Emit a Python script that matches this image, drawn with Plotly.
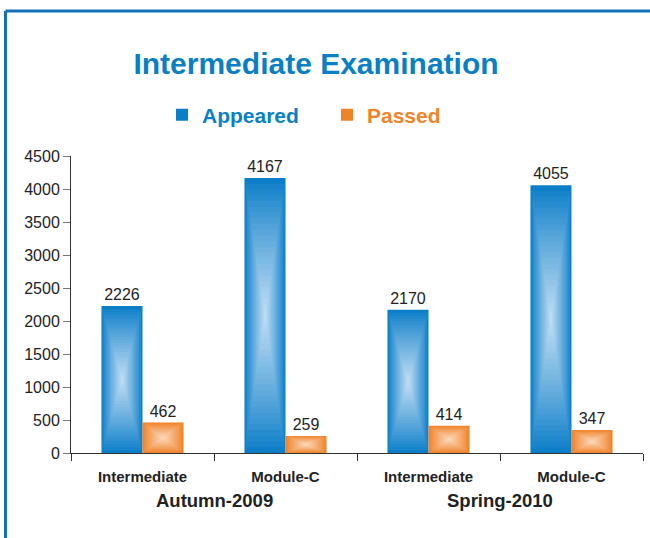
import plotly.graph_objects as go

# exam data
sessions = ["Autumn-2009", "Autumn-2009", "Spring-2010", "Spring-2010"]
levels = ["Intermediate", "Module-C", "Intermediate", "Module-C"]
appeared = [2226, 4167, 2170, 4055]
passed = [462, 259, 414, 347]

BLUE_EDGE, BLUE_MID = (12, 126, 200), (196, 223, 244)
ORANGE_EDGE, ORANGE_MID = (240, 130, 40), (252, 218, 190)
BAR_W = 0.287
N_LAYERS = 24

pos = list(range(len(levels)))   # one slot per exam/session


def mix(c1, c2, t):
    return "rgb(%d,%d,%d)" % tuple(round(a + (b - a) * t) for a, b in zip(c1, c2))


fig = go.Figure()


def add_series(name, values, edge, mid, offset, label_color):
    # base bar carries legend + value labels
    fig.add_trace(go.Bar(
        x=pos, y=values, name="<span style='color:%s'>%s</span>" % (label_color, name),
        marker=dict(color=mix(edge, mid, 0), line=dict(width=0)),
        width=BAR_W, offset=offset,
        text=[str(v) for v in values], textposition="outside",
        textfont=dict(family="Liberation Sans", size=16, color="#222"),
        cliponaxis=False,
    ))
    # concentric layers fake the radial gradient fill
    for k in range(1, N_LAYERS):
        f = 1 - k / N_LAYERS
        fig.add_trace(go.Bar(
            x=pos, y=[v * f for v in values], base=[v * (1 - f) / 2 for v in values],
            marker=dict(color=mix(edge, mid, (k / N_LAYERS) ** 0.9), line=dict(width=0)),
            width=BAR_W * f, offset=offset + BAR_W * (1 - f) / 2,
            showlegend=False, hoverinfo="skip",
        ))


add_series("Appeared", appeared, BLUE_EDGE, BLUE_MID, -BAR_W, "#0a7fc4")
add_series("Passed", passed, ORANGE_EDGE, ORANGE_MID, 0, "#f0842a")

# session labels under each pair of exams
for s in dict.fromkeys(sessions):
    idx = [i for i, v in enumerate(sessions) if v == s]
    fig.add_annotation(
        x=sum(idx) / len(idx), y=-47 / 297, xref="x", yref="paper",
        text="<b>%s</b>" % s, showarrow=False, yanchor="middle",
        font=dict(family="Liberation Sans", size=18.5, color="#222"),
    )

fig.update_layout(
    width=650, height=538,
    margin=dict(l=71, r=7, t=156, b=85),
    paper_bgcolor="white", plot_bgcolor="white",
    barmode="overlay",
    font=dict(family="Liberation Sans", color="#222"),
    title=dict(
        text="<b>Intermediate Examination</b>",
        font=dict(family="Liberation Sans", size=30, color="#0a7fc4"),
        x=316 / 650, xanchor="center", xref="container",
        y=1 - 63 / 538, yanchor="middle", yref="container",
    ),
    legend=dict(
        orientation="h", xref="container", yref="container",
        x=162 / 650, xanchor="left", y=1 - 115 / 538, yanchor="middle",
        font=dict(family="Liberation Sans", size=21, weight="bold"),
        entrywidth=120, itemclick=False,
    ),
    xaxis=dict(
        range=[-0.5, len(levels) - 0.5],
        tickvals=pos, ticktext=levels, ticks="",
        minor=dict(tickvals=[p - 0.5 for p in pos] + [pos[-1] + 0.5],
                   ticks="outside", ticklen=7, tickcolor="#333"),
        ticklabelstandoff=10,
        showline=True, linecolor="#333", linewidth=1,
        tickfont=dict(family="Liberation Sans", size=15, color="#222", weight="bold"),
        showgrid=False, zeroline=False,
    ),
    yaxis=dict(
        range=[0, 4500], dtick=500, showgrid=False, zeroline=False,
        ticks="outside", ticklen=7, tickcolor="#777",
        showline=True, linecolor="#333", linewidth=1,
        tickfont=dict(family="Liberation Sans", size=16, color="#222"),
    ),
)

# blue frame around the figure (left and top edges)
fig.add_shape(type="line", xref="paper", yref="paper",
              x0=(5.5 - 71) / 572, x1=(5.5 - 71) / 572,
              y0=(538 - 11 - 85) / 297, y1=-85 / 297 - 0.05,
              line=dict(color="#1470b8", width=3))
fig.add_shape(type="line", xref="paper", yref="paper",
              x0=(5.5 - 71) / 572, x1=(660 - 71) / 572,
              y0=(538 - 11 - 85) / 297, y1=(538 - 11 - 85) / 297,
              line=dict(color="#1470b8", width=3))

fig.write_html("out.html", config={"displayModeBar": False},
               post_script="document.body.style.margin='0px';")
